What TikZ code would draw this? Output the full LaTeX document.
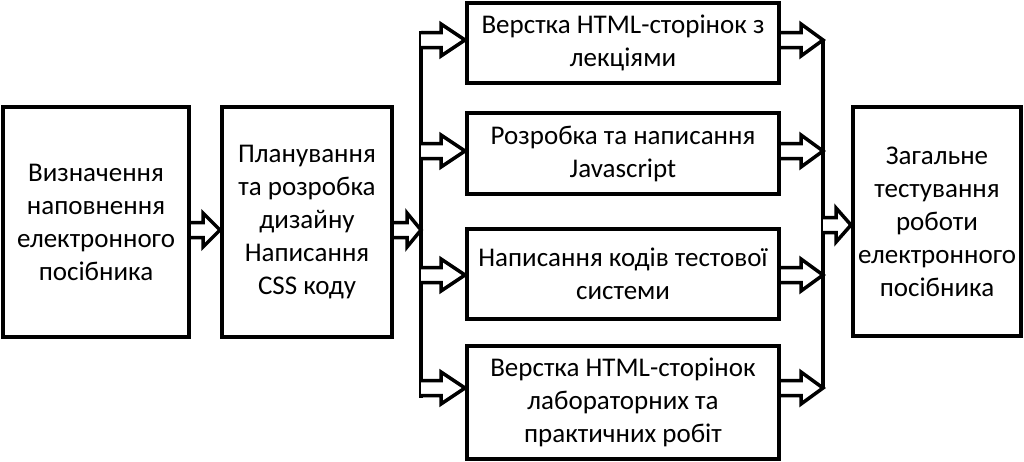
\documentclass[tikz,border=0pt]{standalone}
\usepackage{fontspec}
\setmainfont{Carlito}
\usetikzlibrary{calc}
\tikzset{
  box/.style={draw=black, line width=4pt, fill=white, align=center, inner sep=0pt,
    font=\fontsize{27}{33}\selectfont},
  barrowstyle/.style={draw=black, line width=3.5pt, fill=white, line join=miter},
  bracket/.style={draw=black, line width=4pt}
}
\newcommand{\barrow}[4]{% from #1 to #2, head length #3, head half-height #4
  \draw[barrowstyle] ($(#1)+(0,-7.5)$) -- ($(#2)+(-#3,-7.5)$) -- ($(#2)+(-#3,-#4)$) -- (#2)
    -- ($(#2)+(-#3,#4)$) -- ($(#2)+(-#3,7.5)$) -- ($(#1)+(0,7.5)$);}
\begin{document}
\begin{tikzpicture}[x=1pt,y=-1pt]
\useasboundingbox (0,0) rectangle (1024,461);
% boxes
\node[box, minimum width=186pt, minimum height=230pt] (A) at (96,222)
  {Визначення\\наповнення\\електронного\\посібника};
\node[box, minimum width=170pt, minimum height=230pt] (B) at (307,222)
  {Планування\\та розробка\\дизайну\\Написання\\CSS коду};
\node[box, minimum width=312pt, minimum height=80pt] (M1) at (623,43)
  {Верстка HTML-сторінок з\\лекціями};
\node[box, minimum width=312pt, minimum height=81pt] (M2) at (623,153.5)
  {Розробка та написання\\Javascript};
\node[box, minimum width=312pt, minimum height=90pt] (M3) at (623,274)
  {Написання кодів тестової\\системи};
\node[box, minimum width=312pt, minimum height=113pt] (M4) at (623,402.5)
  {Верстка HTML-сторінок\\лабораторних та\\практичних робіт};
\node[box, minimum width=168pt, minimum height=229pt] (F) at (937,221.5)
  {Загальне\\тестування\\роботи\\електронного\\посібника};
% bracket coordinates
\coordinate (L1) at (421,40);
\coordinate (L2) at (421,151);
\coordinate (L3) at (421,275);
\coordinate (L4) at (421,388);
\coordinate (LB) at (421,230);
\coordinate (R1) at (823,40);
\coordinate (R2) at (823,151);
\coordinate (R3) at (823,275);
\coordinate (R4) at (823,388);
\coordinate (RF) at (823,225);
% vertical lines
\draw[bracket] ($(L1)+(0,-9.5)$) -- ($(L4)+(0,9.5)$);
\draw[bracket] (R1) -- (R4);
% arrows
\barrow{A.east |- LB}{B.west |- LB}{17}{17}
\barrow{B.east |- LB}{LB}{14}{17}
\barrow{L1}{M1.west |- L1}{24}{16}
\barrow{L2}{M2.west |- L2}{24}{16}
\barrow{L3}{M3.west |- L3}{24}{16}
\barrow{L4}{M4.west |- L4}{24}{16}
\barrow{M1.east |- R1}{R1}{22}{16}
\barrow{M2.east |- R2}{R2}{22}{16}
\barrow{M3.east |- R3}{R3}{22}{16}
\barrow{M4.east |- R4}{R4}{22}{16}
\barrow{RF}{F.west |- RF}{15}{17}
\end{tikzpicture}
\end{document}
